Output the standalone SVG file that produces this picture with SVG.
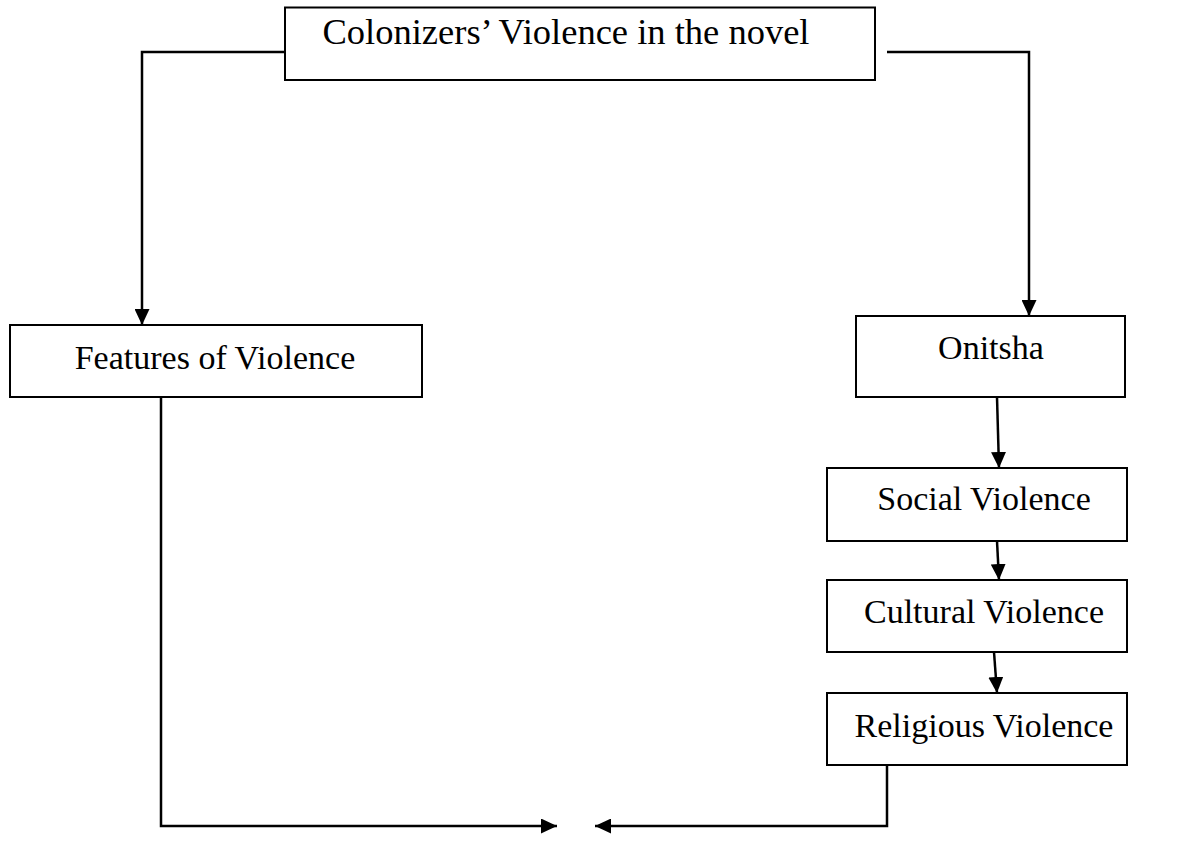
<svg xmlns="http://www.w3.org/2000/svg" width="1194" height="856" viewBox="0 0 1194 856">
<style>
.box{fill:#fff;stroke:#000;stroke-width:2}
.lbl{font-family:"Liberation Serif","Times New Roman",serif;font-size:34px;fill:#000;text-anchor:middle}
.con{fill:none;stroke:#000;stroke-width:2.5}
</style>
<defs>
<marker id="ah" markerWidth="16" markerHeight="15" refX="16" refY="7.5" orient="auto" markerUnits="userSpaceOnUse">
<path d="M0,0 L16,7.5 L0,15 Z" fill="#000"/>
</marker>
</defs>
<rect width="1194" height="856" fill="#fff"/>
<g id="connectors">
<path class="con" d="M285,52 H142 V325" marker-end="url(#ah)"/>
<path class="con" d="M887,52 H1029 V316" marker-end="url(#ah)"/>
<path class="con" d="M997,397 L999,468" marker-end="url(#ah)"/>
<path class="con" d="M997,541 L999,580" marker-end="url(#ah)"/>
<path class="con" d="M994,652 L997,693" marker-end="url(#ah)"/>
<path class="con" d="M161,397 V826 H557" marker-end="url(#ah)"/>
<path class="con" d="M887,765 V826 H595" marker-end="url(#ah)"/>
</g>
<g id="node-colonizers">
<rect class="box" x="285" y="7.5" width="590" height="72.5"/>
<text class="lbl" x="566" y="44" style="font-size:36.5px">Colonizers’ Violence in the novel</text>
</g>
<g id="node-features">
<rect class="box" x="10" y="325" width="412" height="72"/>
<text class="lbl" x="215" y="369">Features of Violence</text>
</g>
<g id="node-onitsha">
<rect class="box" x="856" y="316" width="269" height="81"/>
<text class="lbl" x="991" y="359">Onitsha</text>
</g>
<g id="node-social">
<rect class="box" x="827" y="468" width="300" height="73"/>
<text class="lbl" x="984" y="510">Social Violence</text>
</g>
<g id="node-cultural">
<rect class="box" x="827" y="580" width="300" height="72"/>
<text class="lbl" x="984" y="623">Cultural Violence</text>
</g>
<g id="node-religious">
<rect class="box" x="827" y="693" width="300" height="72"/>
<text class="lbl" x="984" y="737">Religious Violence</text>
</g>
</svg>
